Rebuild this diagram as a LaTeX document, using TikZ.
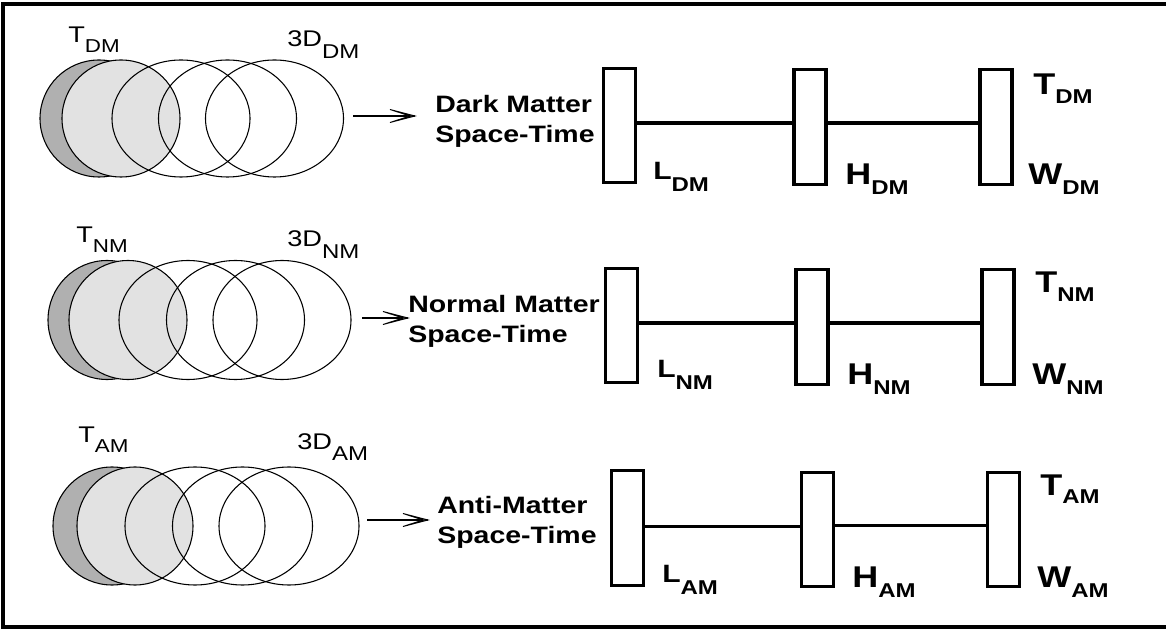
\documentclass[tikz,border=0pt]{standalone}
\usepackage{fontspec}
\setmainfont{Liberation Sans}
\usepackage{graphicx}
\usetikzlibrary{calc}
\definecolor{darkfill}{RGB}{176,176,176}
\definecolor{lightfill}{RGB}{226,226,226}
\newcommand{\hs}[1]{\scalebox{1.2}[1]{#1}}
\newcommand{\sublbl}[5]{\hs{\fontsize{#1}{#1}\selectfont #4\raisebox{-#3}{\fontsize{#2}{#2}\selectfont #5}}}
\newcommand{\midtext}[2]{\hs{\fontsize{17.8}{22.5}\selectfont\bfseries\renewcommand{\arraystretch}{1}\begin{tabular}{@{}l@{}}#1\\#2\end{tabular}}}
% open barbed arrow head drawn at a named coordinate (pointing right)
\newcommand{\barbhead}[1]{\draw[headline] (#1) -- ($(#1)+(-25,-6.5)$) -- ($(#1)+(-5,0)$) -- ($(#1)+(-25,6.5)$) -- cycle;}
\begin{document}
\begin{tikzpicture}[x=0.75pt,y=-0.75pt,
  frame/.style={line width=2.6pt},
  circ/.style={line width=0.8pt},
  darkcirc/.style={circ,fill=darkfill},
  lightcirc/.style={circ,fill=lightfill},
  stepbox/.style={draw,line width=2.3pt,minimum width=24pt,minimum height=86pt,inner sep=0pt},
  bar/.style={line width=2.6pt},
  arr/.style={line width=0.8pt},
  headline/.style={line width=0.7pt,line join=miter,fill=white},
  midlab/.style={anchor=north west,inner sep=0pt},
  clab/.style={anchor=base west,inner sep=0pt},
  rlab/.style={anchor=base west,inner sep=0pt,font=\bfseries}]
\useasboundingbox (0,0) rectangle (1166,630);
% frame (open on the right)
\draw[frame] (1175,4) -- (3,4) -- (3,627) -- (1175,627);

% ---------------- Row 1: Dark Matter ----------------
\draw[darkcirc] (99,118.5) ellipse [x radius=59,y radius=58.5];
\draw[lightcirc] (121,118.5) ellipse [x radius=59,y radius=58.5];
\draw[circ] (181,118.5) ellipse [x radius=69,y radius=58.5];
\draw[circ] (227.5,118.5) ellipse [x radius=69,y radius=58.5];
\draw[circ] (274.5,118.5) ellipse [x radius=69,y radius=58.5];
\node[clab] (ctdm) at (68,43) {\sublbl{17}{14}{7.5pt}{T}{DM}};
\node[clab] (c3ddm) at (287,47) {\sublbl{17}{15}{9pt}{3D}{DM}};
\coordinate (a1s) at (353,116);
\coordinate (a1e) at (415,116);
\draw[arr] (a1s) -- (a1e);
\barbhead{a1e}
\node[midlab] (tdm) at (435,91) {\midtext{Dark Matter}{Space-Time}};
\node[stepbox] (b1dm) at (619.5,125.5) {};
\node[stepbox] (b2dm) at (810,127) {};
\node[stepbox] (b3dm) at (996,127) {};
\draw[bar] ([yshift=2pt]b1dm.east) -- ([yshift=2pt]b1dm.east -| b2dm.west);
\draw[bar] ([yshift=3pt]b2dm.east) -- ([yshift=3pt]b2dm.east -| b3dm.west);
\node[rlab] (ldm) at (653,180) {\sublbl{18.8}{15}{9pt}{L}{DM}};
\node[rlab] (hdm) at (845,185) {\sublbl{22.5}{15}{7.5pt}{H}{DM}};
\node[rlab] (ttdm) at (1033,95) {\sublbl{22.5}{15}{6.5pt}{T}{DM}};
\node[rlab] (wdm) at (1028,185) {\sublbl{22.5}{15}{7.5pt}{W}{DM}};

% ---------------- Row 2: Normal Matter ----------------
\draw[darkcirc] (107,320) ellipse [x radius=59,y radius=59.5];
\draw[lightcirc] (128,320) ellipse [x radius=59,y radius=59.5];
\draw[circ] (188,320) ellipse [x radius=69,y radius=59.5];
\draw[circ] (235.5,320) ellipse [x radius=69,y radius=59.5];
\draw[circ] (282,320) ellipse [x radius=69,y radius=59.5];
\node[clab] (ctnm) at (76,243) {\sublbl{17}{14}{7.5pt}{T}{NM}};
\node[clab] (c3dnm) at (287,247) {\sublbl{17}{15}{9pt}{3D}{NM}};
\coordinate (a2s) at (362,318);
\coordinate (a2e) at (408,318);
\draw[arr] (a2s) -- (a2e);
\barbhead{a2e}
\node[midlab] (tnm) at (408,291) {\midtext{Normal Matter}{Space-Time}};
\node[stepbox] (b1nm) at (621.5,325.5) {};
\node[stepbox] (b2nm) at (812,327) {};
\node[stepbox] (b3nm) at (998,327) {};
\draw[bar] ([yshift=2pt]b1nm.east) -- ([yshift=2pt]b1nm.east -| b2nm.west);
\draw[bar] ([yshift=3pt]b2nm.east) -- ([yshift=3pt]b2nm.east -| b3nm.west);
\node[rlab] (lnm) at (657,378) {\sublbl{18.8}{15}{9pt}{L}{NM}};
\node[rlab] (hnm) at (847,385) {\sublbl{22.5}{15}{7.5pt}{H}{NM}};
\node[rlab] (ttnm) at (1035,293) {\sublbl{22.5}{15}{6.5pt}{T}{NM}};
\node[rlab] (wnm) at (1032,385) {\sublbl{22.5}{15}{7.5pt}{W}{NM}};

% ---------------- Row 3: Anti-Matter ----------------
\draw[darkcirc] (112,526) ellipse [x radius=59,y radius=59];
\draw[lightcirc] (135,526) ellipse [x radius=58,y radius=59];
\draw[circ] (195,526) ellipse [x radius=70,y radius=59];
\draw[circ] (242.5,526) ellipse [x radius=70,y radius=59];
\draw[circ] (289,526) ellipse [x radius=70,y radius=59];
\node[clab] (ctam) at (78,442) {\sublbl{17}{14}{7.5pt}{T}{AM}};
\node[clab] (c3dam) at (297,449) {\sublbl{17}{15}{9pt}{3D}{AM}};
\coordinate (a3s) at (367,520);
\coordinate (a3e) at (428,520);
\draw[arr] (a3s) -- (a3e);
\barbhead{a3e}
\node[midlab] (tam) at (437,492) {\midtext{Anti-Matter}{Space-Time}};
\node[stepbox] (b1am) at (627.5,528) {};
\node[stepbox] (b2am) at (817.5,529.5) {};
\node[stepbox] (b3am) at (1003.5,529.5) {};
\draw[bar] ([yshift=1pt]b1am.east) -- ([yshift=1pt]b1am.east -| b2am.west);
\draw[bar] ([yshift=3pt]b2am.east) -- ([yshift=3pt]b2am.east -| b3am.west);
\node[rlab] (lam) at (662,582) {\sublbl{18.8}{15}{9pt}{L}{AM}};
\node[rlab] (ham) at (852,587) {\sublbl{22.5}{15}{7.5pt}{H}{AM}};
\node[rlab] (ttam) at (1040,495) {\sublbl{22.5}{15}{6.5pt}{T}{AM}};
\node[rlab] (wam) at (1037,587) {\sublbl{22.5}{15}{7.5pt}{W}{AM}};
\end{tikzpicture}
\end{document}
